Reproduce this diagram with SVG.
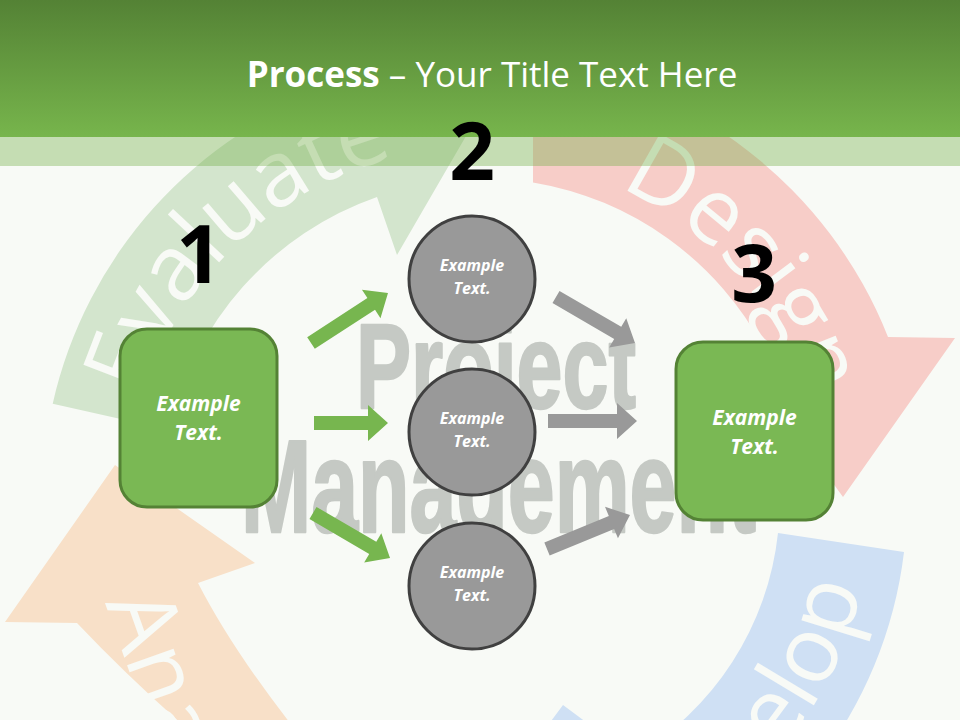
<svg xmlns="http://www.w3.org/2000/svg" width="960" height="720" viewBox="0 0 960 720">
<defs>
<linearGradient id="hdr" x1="0" y1="0" x2="0" y2="1">
<stop offset="0" stop-color="#548235"/>
<stop offset="1" stop-color="#77b54c"/>
</linearGradient>
<path id="pEval" d="M142.4,396.8 A353,353 0 0 1 656.5,194.3"/>
<path id="pDes" d="M619.1,187.6 A342,342 0 0 1 801.4,617"/>
<path id="pDev" d="M548.1,886 A392,392 0 0 0 872,500"/>
<path id="pAna" d="M105,603 L205,885"/>
<style>
.bandtxt{font-family:'Open Sans','Liberation Sans',sans-serif;font-size:92px;fill:#f8faf6}
.pm{font-family:'Liberation Sans Narrow','Liberation Sans',sans-serif;font-weight:bold;fill:#c5c9c4;stroke:#c5c9c4;stroke-width:2.5;stroke-linejoin:round}
.num{font-family:'Open Sans','Liberation Sans',sans-serif;font-weight:bold;font-size:80px;fill:#000;text-anchor:middle}
.box{fill:#7ab854;stroke:#548235;stroke-width:3}
.circ{fill:#999999;stroke:#404040;stroke-width:3}
.lbl{font-family:'Open Sans','Liberation Sans',sans-serif;font-weight:bold;font-style:italic;fill:#ffffff;text-anchor:middle}
.ga{fill:#77b64f}
.gr{fill:#999999}
.title{font-family:'Open Sans','Liberation Sans',sans-serif;font-size:35px;fill:#ffffff}
</style>
</defs>
<rect width="960" height="720" fill="#f8faf6"/>
<g id="cycle">
<path id="evaluate" fill="#d3e5cd" d="M52.7,403.7 A438,438 0 0 1 338.8,85.4 L320,30 L484,105 L397,255 L377,197 A320,320 0 0 0 169.8,430.1 Z"/>
<path id="design" fill="#f7cdc8" d="M533,62 A441,441 0 0 1 888,337 L955,338 L843,497 L738,352 L765,350 A322,322 0 0 0 533,182.4 Z"/>
<path id="develop" fill="#cfe0f4" d="M904,552 A430,430 0 0 1 627,904 L660,980 L470,830 L563,705 L633,757 A296,296 0 0 0 778,533 Z"/>
<path id="analyze" fill="#f8e0c8" d="M236,770 Q150,700 77,623 L5,622 L115,465 L255,563 L198,583 Q240,665 328,770 Z"/>
<text class="bandtxt"><textPath href="#pEval">Evaluate</textPath></text>
<text class="bandtxt" font-size="86"><textPath href="#pDes">Design</textPath></text>
<text class="bandtxt" text-anchor="end"><textPath href="#pDev" startOffset="458">Develop</textPath></text>
<text class="bandtxt"><textPath href="#pAna">Analyze</textPath></text>
</g>
<g id="watermark">
<text class="pm" x="356" y="408" font-size="121" textLength="280" lengthAdjust="spacingAndGlyphs">Project</text>
<text class="pm" x="241" y="532" font-size="132" textLength="515" lengthAdjust="spacingAndGlyphs">Management</text>
</g>
<g id="header">
<rect x="0" y="0" width="960" height="137" fill="url(#hdr)"/>
<rect x="0" y="137" width="960" height="29" fill="#70ad47" fill-opacity="0.38"/>
<text class="title" x="492" y="87" text-anchor="middle"><tspan font-weight="bold">Process</tspan> – Your Title Text Here</text>
</g>
<g id="connectors">
<polygon class="ga" transform="translate(311,343) rotate(-33)" points="0,-7 71.8,-7 71.8,-17 91.8,0 71.8,17 71.8,7 0,7"/>
<polygon class="ga" transform="translate(314,423)" points="0,-7 54,-7 54,-18 74,0 54,18 54,7 0,7"/>
<polygon class="ga" transform="translate(313,513) rotate(30.3)" points="0,-7 69.2,-7 69.2,-17 89.2,0 69.2,17 69.2,7 0,7"/>
<polygon class="gr" transform="translate(556,297) rotate(30.2)" points="0,-7 71.4,-7 71.4,-17 91.4,0 71.4,17 71.4,7 0,7"/>
<polygon class="gr" transform="translate(548,421)" points="0,-7 69,-7 69,-18 89,0 69,18 69,7 0,7"/>
<polygon class="gr" transform="translate(547,549) rotate(-22.3)" points="0,-7 69.7,-7 69.7,-17 89.7,0 69.7,17 69.7,7 0,7"/>
</g>
<g id="step1">
<rect class="box" x="120" y="329" width="157" height="178" rx="27"/>
<text class="lbl" x="198.5" y="411" font-size="21">Example</text>
<text class="lbl" x="198.5" y="440" font-size="21">Text.</text>
</g>
<g id="step2a">
<circle class="circ" cx="472" cy="279" r="63"/>
<text class="lbl" x="472" y="271" font-size="16">Example</text>
<text class="lbl" x="472" y="294" font-size="16">Text.</text>
</g>
<g id="step2b">
<circle class="circ" cx="472" cy="432" r="63"/>
<text class="lbl" x="472" y="424" font-size="16">Example</text>
<text class="lbl" x="472" y="447" font-size="16">Text.</text>
</g>
<g id="step2c">
<circle class="circ" cx="472" cy="586" r="63"/>
<text class="lbl" x="472" y="578" font-size="16">Example</text>
<text class="lbl" x="472" y="601" font-size="16">Text.</text>
</g>
<g id="step3">
<rect class="box" x="676" y="342" width="157" height="178" rx="27"/>
<text class="lbl" x="754.5" y="425" font-size="21">Example</text>
<text class="lbl" x="754.5" y="454" font-size="21">Text.</text>
</g>
<g id="numbers">
<text class="num" x="199" y="283">1</text>
<text class="num" x="472" y="180">2</text>
<text class="num" x="754" y="302">3</text>
</g>
</svg>
